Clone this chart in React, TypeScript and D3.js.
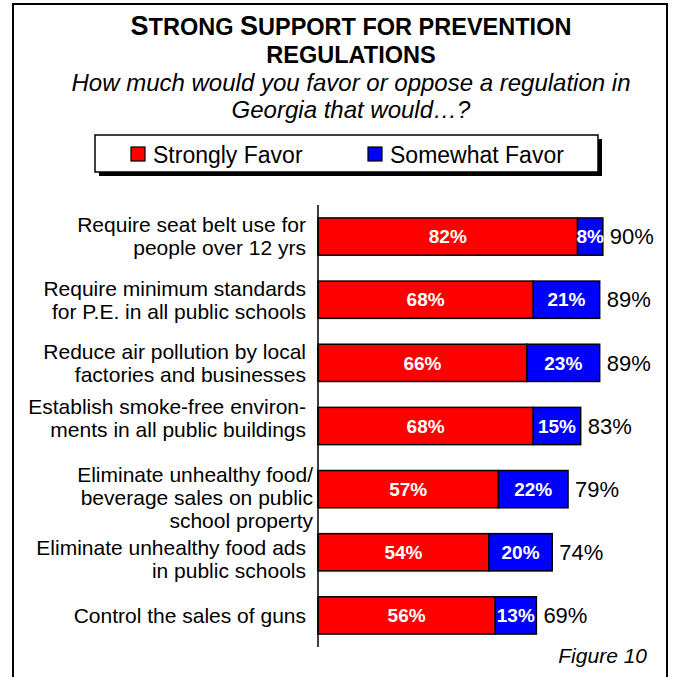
import React from "react";
import * as d3 from "d3";

const categories: string[][] = [
  ["Require seat belt use for", "people over 12 yrs"],
  ["Require minimum standards", "for P.E. in all public schools"],
  ["Reduce air pollution by local", "factories and businesses"],
  ["Establish smoke-free environ-", "ments in all public buildings"],
  ["Eliminate unhealthy food/", "beverage sales on public", "school property"],
  ["Eliminate unhealthy food ads", "in public schools"],
  ["Control the sales of guns"],
];
const stronglyFavor = [82, 68, 66, 68, 57, 54, 56];
const somewhatFavor = [8, 21, 23, 15, 22, 20, 13];
const totals = [90, 89, 89, 83, 79, 74, 69];
const seriesNames = ["Strongly Favor", "Somewhat Favor"];
const seriesColors = ["#FF0000", "#0000FF"];

const FONT = "'Liberation Sans', Arial, Helvetica, sans-serif";

export default function App() {
  const W = 674;
  const H = 677;
  const x = d3.scaleLinear().domain([0, 100]).range([318, 318 + 316.5]);
  const y = d3
    .scaleBand<number>()
    .domain(d3.range(categories.length))
    .range([205, 647])
    .paddingInner(0.41)
    .paddingOuter(0.205);
  const bw = y.bandwidth();
  const labelNudgeY = [0, 0, 0, -8, 8, 7, 0];
  const labelNudgeX = [0, 0, 0, 0, 7, 0, 0];
  const lineH = 23;
  const cx = 351;

  return (
    <svg
      width={W}
      height={H}
      style={{ position: "absolute", left: 0, top: 0, background: "#fff" }}
      fontFamily={FONT}
    >
      <rect x={0} y={0} width={W} height={H} fill="#fff" />
      {/* frame */}
      <rect x={13} y={4} width={654} height={700} fill="none" stroke="#000" strokeWidth={2} />

      {/* title */}
      <text x={cx} y={35} textAnchor="middle" fontWeight="bold" fontSize={23.5} fill="#000">
        <tspan fontSize={27}>S</tspan>
        <tspan>TRONG </tspan>
        <tspan fontSize={27}>S</tspan>
        <tspan>UPPORT FOR PREVENTION</tspan>
      </text>
      <text x={cx} y={63} textAnchor="middle" fontWeight="bold" fontSize={23.5} fill="#000">
        REGULATIONS
      </text>
      <text x={cx} y={91} textAnchor="middle" fontStyle="italic" fontSize={24} fill="#000">
        How much would you favor or oppose a regulation in
      </text>
      <text x={cx} y={118} textAnchor="middle" fontStyle="italic" fontSize={24} fill="#000">
        Georgia that would…?
      </text>

      {/* legend */}
      <rect x={99} y={139} width={503} height={37} fill="#000" />
      <rect x={95} y={135} width={503} height={37} fill="#fff" stroke="#000" strokeWidth={1.5} />
      {seriesNames.map((name, i) => {
        const lx = i === 0 ? 131 : 368;
        return (
          <g key={name}>
            <rect x={lx} y={147} width={14} height={14} fill={seriesColors[i]} stroke="#000" strokeWidth={1.2} />
            <text x={lx + 22} y={163} fontSize={23} fill="#000">
              {name}
            </text>
          </g>
        );
      })}

      {/* bars */}
      {categories.map((lines, i) => {
        const top = y(i)!;
        const cy = top + bw / 2;
        const s = stronglyFavor[i];
        const w = somewhatFavor[i];
        const x0 = x(0);
        const x1 = x(s);
        const x2 = x(s + w);
        const ly = cy + labelNudgeY[i];
        return (
          <g key={i}>
            <rect x={x0} y={top} width={x1 - x0} height={bw} fill={seriesColors[0]} stroke="#000" strokeWidth={1.5} />
            <rect x={x1} y={top} width={x2 - x1} height={bw} fill={seriesColors[1]} stroke="#000" strokeWidth={1.5} />
            <text x={(x0 + x1) / 2} y={cy} dy="0.35em" textAnchor="middle" fontWeight="bold" fontSize={19} fill="#fff">
              {s}%
            </text>
            <text x={(x1 + x2) / 2} y={cy} dy="0.35em" textAnchor="middle" fontWeight="bold" fontSize={19} fill="#fff">
              {w}%
            </text>
            <text x={x2 + 7} y={cy} dy="0.35em" fontSize={22} fill="#000">
              {totals[i]}%
            </text>
            <text textAnchor="end" fontSize={21} fill="#000">
              {lines.map((ln, j) => (
                <tspan
                  key={j}
                  x={306 + labelNudgeX[i]}
                  y={ly + (j - (lines.length - 1) / 2) * lineH + 7.4}
                >
                  {ln}
                </tspan>
              ))}
            </text>
          </g>
        );
      })}

      {/* axis line */}
      <line x1={x(0)} x2={x(0)} y1={205} y2={647} stroke="#000" strokeWidth={1.5} />

      <text x={647} y={663} textAnchor="end" fontStyle="italic" fontSize={21} fill="#000">
        Figure 10
      </text>
    </svg>
  );
}
